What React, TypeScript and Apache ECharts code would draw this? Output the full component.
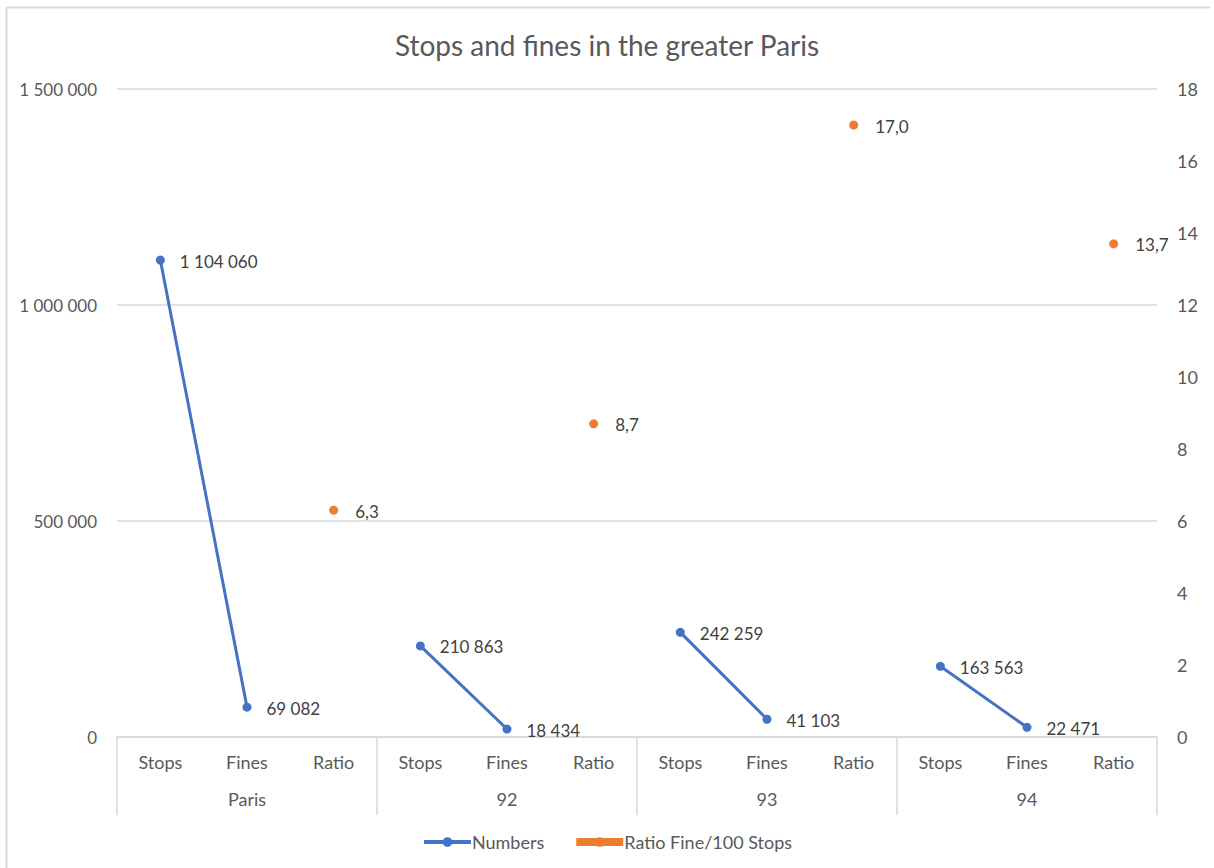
import React, { useEffect, useRef } from "react";
import * as echarts from "echarts";

const categories = ["Stops", "Fines", "Ratio", "Stops", "Fines", "Ratio", "Stops", "Fines", "Ratio", "Stops", "Fines", "Ratio"];
const groups = ["Paris", "92", "93", "94"];
const numbers: (number | null)[] = [1104060, 69082, null, 210863, 18434, null, 242259, 41103, null, 163563, 22471, null];
const ratios: (number | null)[] = [null, null, 6.3, null, null, 8.7, null, null, 17.0, null, null, 13.7];
const leftTicks = { min: 0, max: 1500000, interval: 500000 };
const rightTicks = { min: 0, max: 18, interval: 2 };

const FONT = "Lato, 'Open Sans', sans-serif";
const TXT = "#595959";
const GRID = "#d9d9d9";

const fmtNum = (v: number) => String(Math.round(v)).replace(/\B(?=(\d{3})+(?!\d))/g, " ");
const fmtRatio = (v: number) => v.toFixed(1).replace(".", ",");

export default function App() {
  const ref = useRef<HTMLDivElement>(null);
  useEffect(() => {
    if (!ref.current) return;
    const chart = echarts.init(ref.current, null, { renderer: "svg" });
    chart.setOption({
      animation: false,
      backgroundColor: "#ffffff",
      textStyle: { fontFamily: FONT },
      title: {
        text: "Stops and fines in the greater Paris",
        left: "center",
        top: 26,
        textStyle: { fontFamily: FONT, fontSize: 28, fontWeight: "normal", color: TXT },
      },
      graphic: [
        { type: "line", shape: { x1: 6.5, y1: 7.5, x2: 1210, y2: 7.5 }, style: { stroke: GRID, lineWidth: 2 } },
        { type: "line", shape: { x1: 6.5, y1: 7.5, x2: 6.5, y2: 868 }, style: { stroke: GRID, lineWidth: 2 } },
      ],
      legend: {
        bottom: 12,
        left: "center",
        itemWidth: 47,
        itemHeight: 12,
        itemGap: 28,
        textStyle: { fontFamily: FONT, fontSize: 18, color: TXT, padding: [0, 0, 0, -4] },
        data: [
          { name: "Numbers", itemStyle: { color: "#4472C4" }, lineStyle: { width: 4, color: "#4472C4" } },
          { name: "Ratio Fine/100 Stops", itemStyle: { color: "#ED7D31" }, lineStyle: { width: 8, color: "#ED7D31" } },
        ],
      },
      grid: { left: 117, right: 57, top: 89, bottom: 131, containLabel: false },
      xAxis: [
        {
          type: "category",
          data: categories,
          position: "bottom",
          axisLine: { show: true, lineStyle: { color: GRID, width: 1.5 } },
          axisTick: { show: false },
          axisLabel: { margin: 16, fontFamily: FONT, fontSize: 18, color: TXT, interval: 0 },
        },
        {
          type: "category",
          data: groups,
          position: "bottom",
          axisLine: { show: false },
          axisTick: { show: true, length: 78, lineStyle: { color: GRID, width: 1.5 } },
          axisLabel: { margin: 53, fontFamily: FONT, fontSize: 18, color: TXT, interval: 0 },
        },
      ],
      yAxis: [
        {
          type: "value",
          ...leftTicks,
          axisLine: { show: false },
          axisTick: { show: false },
          splitLine: { show: true, lineStyle: { color: GRID, width: 1.5 } },
          axisLabel: { margin: 20, fontFamily: FONT, fontSize: 17, color: TXT, formatter: (v: number) => fmtNum(v) },
        },
        {
          type: "value",
          ...rightTicks,
          position: "right",
          axisLine: { show: false },
          axisTick: { show: false },
          splitLine: { show: false },
          axisLabel: { margin: 20, fontFamily: FONT, fontSize: 18, color: TXT },
        },
      ],
      series: [
        {
          name: "Numbers",
          type: "line",
          xAxisIndex: 0,
          yAxisIndex: 0,
          data: numbers,
          connectNulls: false,
          symbol: "circle",
          symbolSize: 9,
          showAllSymbol: true,
          itemStyle: { color: "#4472C4" },
          lineStyle: { color: "#4472C4", width: 3 },
          label: {
            show: true,
            position: "right",
            offset: [10, 1],
            fontFamily: FONT,
            fontSize: 17,
            color: "#404040",
            formatter: (p: any) => fmtNum(p.value),
          },
        },
        {
          name: "Ratio Fine/100 Stops",
          type: "line",
          xAxisIndex: 0,
          yAxisIndex: 1,
          data: ratios,
          connectNulls: false,
          symbol: "circle",
          symbolSize: 9,
          showAllSymbol: true,
          itemStyle: { color: "#ED7D31" },
          lineStyle: { color: "#ED7D31", width: 7 },
          label: {
            show: true,
            position: "right",
            offset: [12, 1],
            fontFamily: FONT,
            fontSize: 17,
            color: "#404040",
            formatter: (p: any) => fmtRatio(p.value),
          },
        },
      ],
    });
    return () => chart.dispose();
  }, []);
  return <div ref={ref} style={{ position: "fixed", left: 0, top: 0, width: 1214, height: 868 }} />;
}
